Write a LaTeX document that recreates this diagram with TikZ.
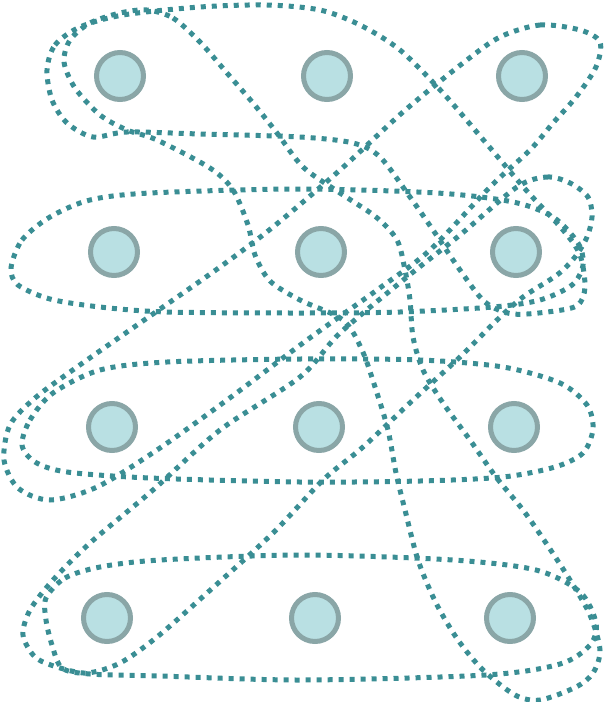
\documentclass[tikz,border=0pt]{standalone}
\usepackage{xcolor}
\definecolor{vertexfill}{RGB}{185, 224, 227}
\definecolor{vertexring}{RGB}{138, 166, 167}
\definecolor{edgeteal}{RGB}{58, 142, 148}
\usepackage{tikz}
\usetikzlibrary{positioning}
\tikzset{
    vertex/.style={draw=vertexring, fill=vertexfill, circle, line width=5pt, minimum size=47pt, inner sep=0pt},
    hyperedge/.style={draw=edgeteal, line width=5pt, dash pattern=on 5pt off 6pt},
}

\begin{document}
\begin{tikzpicture}[x=1pt, y=-1pt]
    \useasboundingbox (0,0) rectangle (606,702);

    % Row hyperedges
    \draw[hyperedge] plot[smooth cycle] coordinates {(11,268) (22,240) (50,217) (90,200) (150,193) (300,189) (437,193) (513,202) (553,217) (578,243) (583,265) (572,285) (540,300) (493,307) (400,312) (300,313) (167,312) (100,307) (50,299) (18,285)};
    \draw[hyperedge] plot[smooth cycle] coordinates {(22,445) (30,420) (53,393) (100,370) (167,362) (300,359) (420,360) (503,367) (560,383) (587,405) (593,429) (583,453) (555,467) (503,477) (420,481) (300,482) (150,478) (67,472) (35,462)};
    \draw[hyperedge] plot[smooth cycle] coordinates {(46,598) (65,578) (100,567) (160,560) (303,555) (453,560) (536,570) (580,592) (596,623) (590,645) (560,664) (486,675) (303,680) (160,676) (90,674) (62,668) (52,645) (46,620)};

    % Top blob
    \draw[hyperedge] plot[smooth cycle] coordinates {(47,70) (55,45) (80,27) (123,15) (200,7) (267,5) (320,10) (360,25) (400,50) (443,93) (486,143) (526,190) (563,230) (580,255) (585,287) (578,305) (555,311) (513,314) (485,302) (460,270) (433,230) (410,197) (380,157) (353,143) (300,137) (200,134) (127,132) (93,137) (67,123) (52,100)};

    % Diagonal hyperedges
    \draw[hyperedge] plot[smooth cycle] coordinates {(500,37) (540,25) (580,30) (600,42) (596,67) (576,97) (553,123) (530,150) (490,187) (430,250) (377,290) (307,340) (227,400) (157,450) (97,487) (50,500) (18,488) (4,460) (10,425) (35,398) (77,367) (140,323) (220,267) (273,227) (340,170) (403,112) (463,63)};
    \draw[hyperedge] plot[smooth cycle] coordinates {(517,187) (547,177) (570,183) (588,197) (592,217) (587,237) (575,257) (557,275) (523,297) (497,320) (460,357) (413,400) (363,447) (323,480) (273,533) (207,593) (157,637) (120,663) (87,673) (57,667) (35,657) (23,635) (30,610) (53,580) (90,543) (153,490) (220,430) (300,377) (340,333) (407,277) (460,235)};
    \draw[hyperedge] plot[smooth cycle] coordinates {(147,10) (173,18) (200,42) (227,73) (253,103) (277,133) (303,167) (340,193) (376,217) (397,240) (405,270) (410,300) (413,337) (423,370) (443,403) (470,440) (496,477) (523,510) (546,543) (570,580) (590,615) (600,650) (593,673) (576,687) (540,700) (515,695) (483,670) (458,640) (436,603) (418,560) (405,510) (396,473) (388,430) (376,390) (362,350) (343,320) (300,300) (270,281) (255,255) (248,225) (233,190) (210,168) (157,140) (127,130) (100,115) (75,88) (64,62) (70,40) (90,23) (120,13)};

    % Vertices
    \node[vertex] (n11) at (120,76) {};
    \node[vertex] (n12) at (327,76) {};
    \node[vertex] (n13) at (522,76) {};
    \node[vertex] (n21) at (114,252) {};
    \node[vertex] (n22) at (321,252) {};
    \node[vertex] (n23) at (516,252) {};
    \node[vertex] (n31) at (112,427) {};
    \node[vertex] (n32) at (319,427) {};
    \node[vertex] (n33) at (514,427) {};
    \node[vertex] (n41) at (107,618) {};
    \node[vertex] (n42) at (315,618) {};
    \node[vertex] (n43) at (510,618) {};
\end{tikzpicture}
\end{document}
